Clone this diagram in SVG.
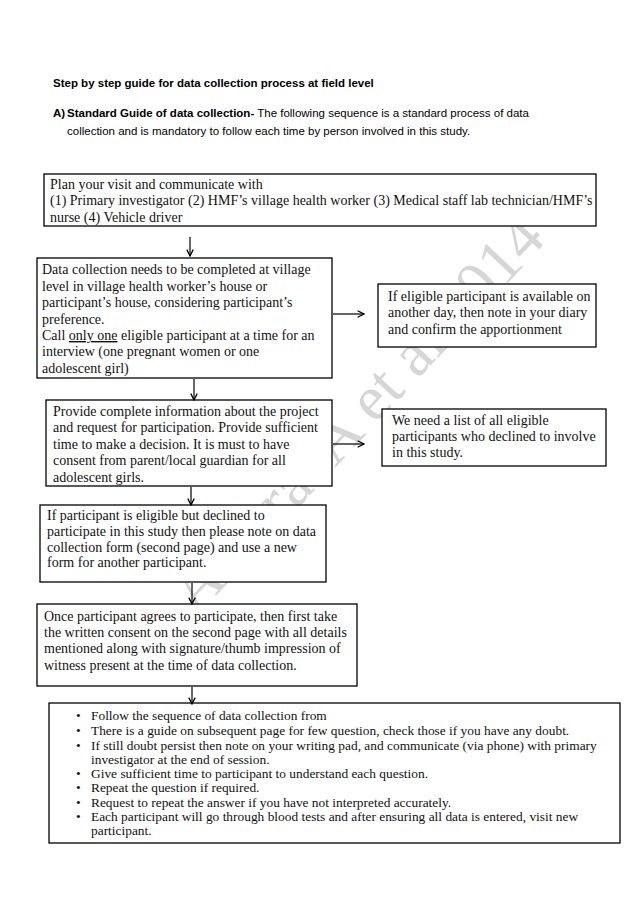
<svg xmlns="http://www.w3.org/2000/svg" width="638" height="903" viewBox="0 0 638 903">
<style>
.hd{font-family:"Liberation Sans",Arial,sans-serif;font-size:11.5px;fill:#000}
.b{font-weight:bold}
.t{font-family:"Liberation Serif","Times New Roman",serif;font-size:14px;fill:#111}
.t2{font-family:"Liberation Serif","Times New Roman",serif;font-size:13.4px;fill:#111}
.box{fill:#fff;stroke:#000;stroke-width:1.3}
.wm{font-family:"Liberation Serif",serif;font-size:64px;fill:#d6d6d6}
.c{stroke:#000;stroke-width:1.2;fill:none}
</style>
<defs>
<marker id="ah" viewBox="0 0 10 10" refX="9" refY="5" markerWidth="8" markerHeight="8" markerUnits="userSpaceOnUse" orient="auto">
<path d="M1,1 L9,5 L1,9" fill="none" stroke="#000" stroke-width="1.6"/>
</marker>
</defs>
<rect width="638" height="903" fill="#fff"/>
<g id="header">
<text class="hd b" x="53" y="87">Step by step guide for data collection process at field level</text>
<text class="hd" x="53" y="117"><tspan class="b">A)</tspan><tspan x="67" class="b">Standard Guide of data collection-</tspan> The following sequence is a standard process of data</text>
<text class="hd" x="67" y="135">collection and is mandatory to follow each time by person involved in this study.</text>
</g>
<g id="watermark">
<text class="wm" transform="translate(197,616) rotate(-47)">Amara. A et al 2014</text>
</g>
<g id="n1">
<rect class="box" x="44" y="174" width="552" height="52"/>
<text class="t" x="50" y="189">Plan your visit and communicate with</text>
<text class="t" x="50" y="205">(1) Primary investigator (2) HMF’s village health worker (3) Medical staff lab technician/HMF’s</text>
<text class="t" x="50" y="222">nurse (4) Vehicle driver</text>
</g>
<g id="n2">
<rect class="box" x="37" y="258" width="295" height="120"/>
<text class="t" x="42" y="274">Data collection needs to be completed at village</text>
<text class="t" x="42" y="291">level in village health worker’s house or</text>
<text class="t" x="42" y="307">participant’s house, considering participant’s</text>
<text class="t" x="42" y="324">preference.</text>
<text class="t" x="42" y="340">Call <tspan style="text-decoration:underline">only one</tspan> eligible participant at a time for an</text>
<text class="t" x="42" y="356">interview (one pregnant women or one</text>
<text class="t" x="42" y="373">adolescent girl)</text>
</g>
<g id="n3">
<rect class="box" x="378" y="284" width="218" height="63"/>
<text class="t" x="388" y="301">If eligible participant is available on</text>
<text class="t" x="388" y="317">another day, then note in your diary</text>
<text class="t" x="388" y="334">and confirm the apportionment</text>
</g>
<g id="n4">
<rect class="box" x="46" y="400" width="286" height="86"/>
<text class="t" x="53" y="416">Provide complete information about the project</text>
<text class="t" x="53" y="432">and request for participation. Provide sufficient</text>
<text class="t" x="53" y="449">time to make a decision. It is must to have</text>
<text class="t" x="53" y="465">consent from parent/local guardian for all</text>
<text class="t" x="53" y="482">adolescent girls.</text>
</g>
<g id="n5">
<rect class="box" x="382" y="409" width="224" height="57"/>
<text class="t" x="392" y="425">We need a list of all eligible</text>
<text class="t" x="392" y="441">participants who declined to involve</text>
<text class="t" x="392" y="457">in this study.</text>
</g>
<g id="n6">
<rect class="box" x="40" y="505" width="286" height="77"/>
<text class="t" x="47" y="520">If participant is eligible but declined to</text>
<text class="t" x="47" y="536">participate in this study then please note on data</text>
<text class="t" x="47" y="552">collection form (second page) and use a new</text>
<text class="t" x="47" y="567">form for another participant.</text>
</g>
<g id="n7">
<rect class="box" x="37" y="604" width="320" height="82"/>
<text class="t" x="44" y="621">Once participant agrees to participate, then first take</text>
<text class="t" x="44" y="637">the written consent on the second page with all details</text>
<text class="t" x="44" y="653">mentioned along with signature/thumb impression of</text>
<text class="t" x="44" y="670">witness present at the time of data collection.</text>
</g>
<g id="n8">
<rect class="box" x="49" y="703" width="571" height="140"/>
<g class="t2">
<text x="76" y="720">•</text><text x="91" y="720">Follow the sequence of data collection from</text>
<text x="76" y="735">•</text><text x="91" y="735">There is a guide on subsequent page for few question, check those if you have any doubt.</text>
<text x="76" y="750">•</text><text x="91" y="750">If still doubt persist then note on your writing pad, and communicate (via phone) with primary</text>
<text x="91" y="764">investigator at the end of session.</text>
<text x="76" y="778">•</text><text x="91" y="778">Give sufficient time to participant to understand each question.</text>
<text x="76" y="792">•</text><text x="91" y="792">Repeat the question if required.</text>
<text x="76" y="807">•</text><text x="91" y="807">Request to repeat the answer if you have not interpreted accurately.</text>
<text x="76" y="821">•</text><text x="91" y="821">Each participant will go through blood tests and after ensuring all data is entered, visit new</text>
<text x="91" y="835">participant.</text>
</g>
</g>
<g id="connectors">
<line class="c" x1="190" y1="237" x2="190" y2="256" marker-end="url(#ah)"/>
<line class="c" x1="333" y1="314" x2="364" y2="314" marker-end="url(#ah)"/>
<line class="c" x1="194" y1="379" x2="194" y2="400" marker-end="url(#ah)"/>
<line class="c" x1="333" y1="444" x2="364" y2="444" marker-end="url(#ah)"/>
<line class="c" x1="191" y1="487" x2="191" y2="505" marker-end="url(#ah)"/>
<line class="c" x1="192" y1="583" x2="192" y2="604" marker-end="url(#ah)"/>
<line class="c" x1="192" y1="687" x2="192" y2="704" marker-end="url(#ah)"/>
</g>
</svg>
